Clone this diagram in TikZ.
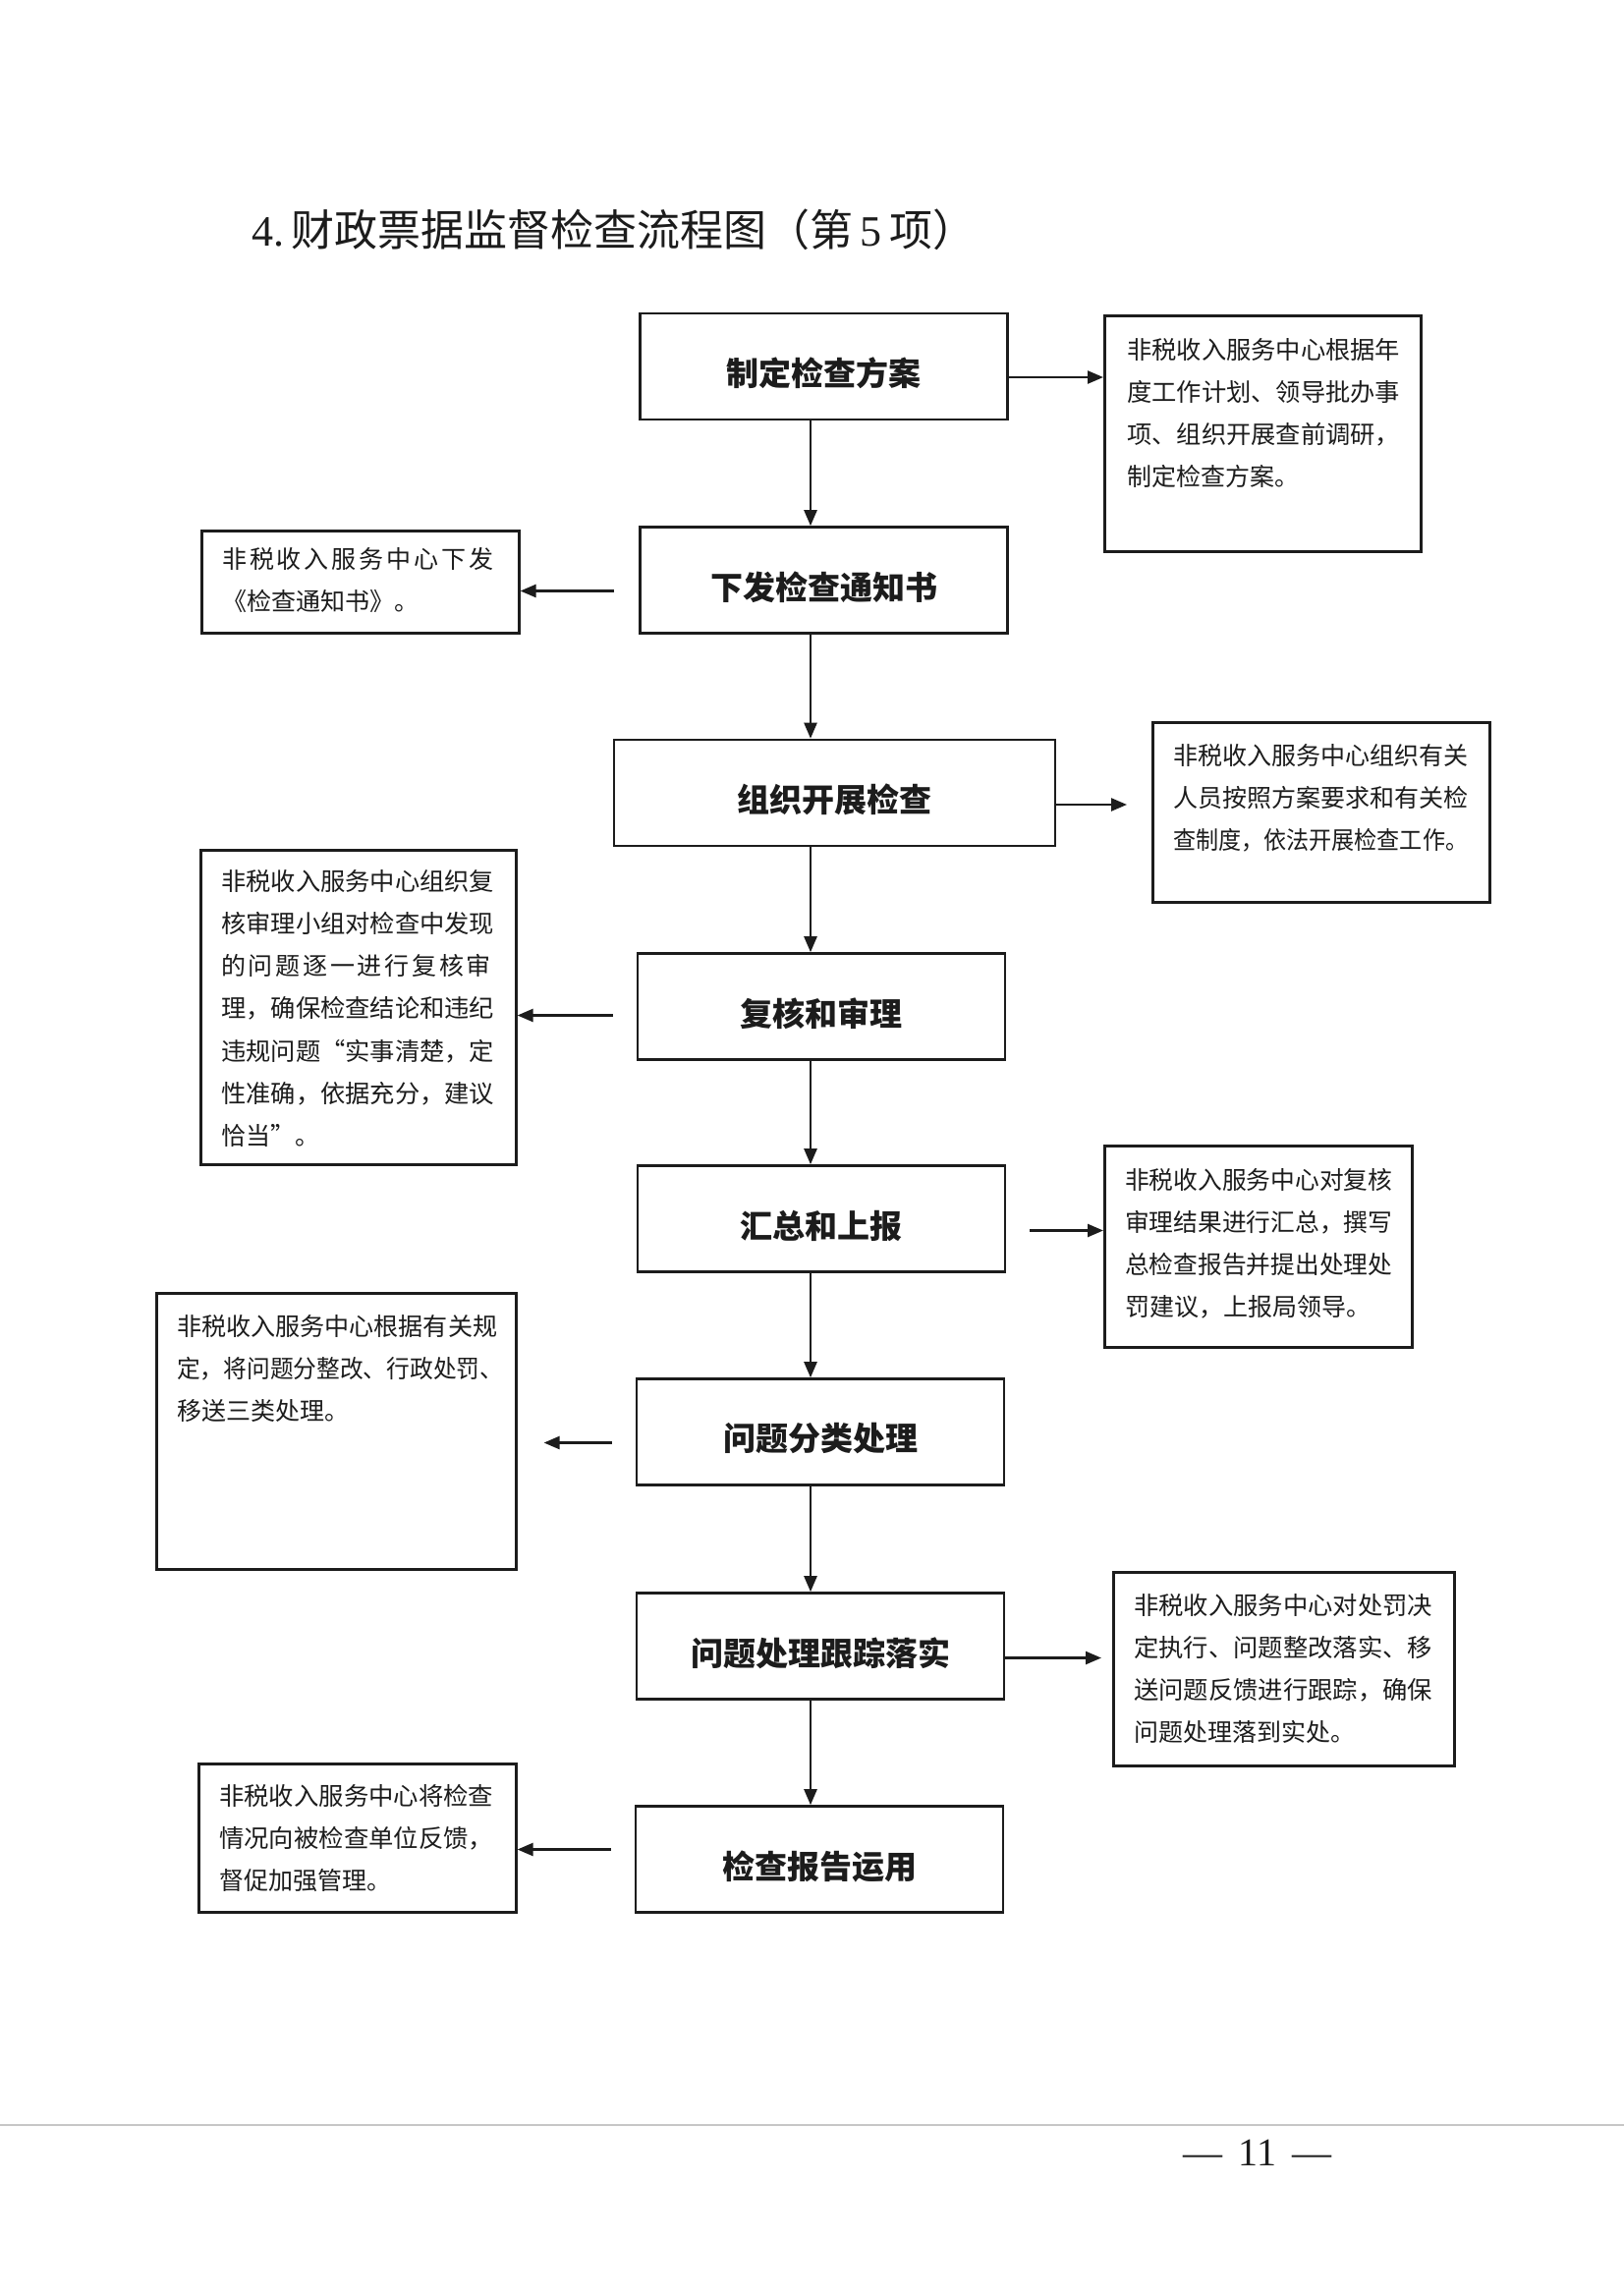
\documentclass[tikz,border=0pt]{standalone}
\usepackage{fontspec}
\usepackage{graphicx}
\setmainfont{Liberation Serif}
\newfontfamily\cjk{Noto Sans CJK SC}
\usetikzlibrary{arrows.meta,calc}
\definecolor{ink}{HTML}{1C1C1C}
\newcommand\fl[2]{\resizebox{#1}{\height}{#2}}
\newcommand\mt[1]{\raisebox{-7pt}[\height][\depth]{#1}}
\tikzset{
  mainbox/.style={draw=ink, line width=2.6pt, minimum width=374pt, minimum height=108pt, inner sep=0pt,
    font=\cjk\bfseries\fontsize{33}{36}\selectfont, text=ink},
  sidebox/.style={draw=ink, line width=2.6pt, inner sep=0pt, anchor=north west},
  sidetext/.style={anchor=north west, inner sep=0pt, align=left,
    font=\cjk\fontsize{25}{43.2}\selectfont, text=ink},
  arr/.style={draw=ink, line width=2.4pt, -{Triangle[length=16pt,width=13pt]}},
}
\begin{document}
\begin{tikzpicture}[x=1pt,y=-1pt]
\useasboundingbox (0,0) rectangle (1653,2336);
\fill[white] (0,0) rectangle (1653,2336);

% title
\node[anchor=west, inner sep=0pt, text=ink] (title) at (256,234)
  {\fontsize{44}{48}\selectfont 4.\,{\cjk 财政票据监督检查流程图（第}\,5\,{\cjk 项）}};

% main boxes
\node[mainbox] (B1) at (838.5,373) {\mt{制定检查方案}};
\node[mainbox] (B2) at (838.5,590.5) {\mt{下发检查通知书}};
\node[mainbox, minimum width=449pt] (B3) at (849.5,807) {\mt{组织开展检查}};
\node[mainbox] (B4) at (836,1024.5) {\mt{复核和审理}};
\node[mainbox] (B5) at (836,1240.5) {\mt{汇总和上报}};
\node[mainbox] (B6) at (835,1457.5) {\mt{问题分类处理}};
\node[mainbox] (B7) at (835,1675.5) {\mt{问题处理跟踪落实}};
\node[mainbox] (B8) at (834,1892.5) {\mt{检查报告运用}};

% side boxes
\node[sidebox, minimum width=322pt, minimum height=240pt] (R1) at (1123,320) {};
\node[sidebox, minimum width=323pt, minimum height=104pt] (L2) at (204,539) {};
\node[sidebox, minimum width=343pt, minimum height=183pt] (R3) at (1172,734) {};
\node[sidebox, minimum width=321pt, minimum height=320pt] (L4) at (203,864) {};
\node[sidebox, minimum width=313pt, minimum height=205pt] (R5) at (1123,1165) {};
\node[sidebox, minimum width=366pt, minimum height=281pt] (L6) at (158,1315) {};
\node[sidebox, minimum width=347pt, minimum height=197pt] (R7) at (1132,1599) {};
\node[sidebox, minimum width=323pt, minimum height=151pt] (L8) at (201,1794) {};

% side texts
\node[sidetext] (R1t) at (1147,344) {\fl{278pt}{非税收入服务中心根据年}\\
  \fl{278pt}{度工作计划、领导批办事}\\
  \fl{278pt}{项、组织开展查前调研，}\\
  制定检查方案。};
\node[sidetext] (L2t) at (226,557) {{\addfontfeatures{LetterSpace=11.5}非税收入服务中心下发}\\
  《检查通知书》。};
\node[sidetext] (R3t) at (1194,757) {\fl{300pt}{非税收入服务中心组织有关}\\
  \fl{300pt}{人员按照方案要求和有关检}\\
  \fl{300pt}{查制度，依法开展检查工作。}};
\node[sidetext] (L4t) at (225,885) {\fl{278pt}{非税收入服务中心组织复}\\
  \fl{278pt}{核审理小组对检查中发现}\\
  {\addfontfeatures{LetterSpace=11}的问题逐一进行复核审}\\
  \fl{278pt}{理，确保检查结论和违纪}\\
  \fl{278pt}{违规问题“实事清楚，定}\\
  \fl{278pt}{性准确，依据充分，建议}\\
  恰当”。};
\node[sidetext] (R5t) at (1145,1189) {\fl{272pt}{非税收入服务中心对复核}\\
  \fl{272pt}{审理结果进行汇总，撰写}\\
  \fl{272pt}{总检查报告并提出处理处}\\
  罚建议，上报局领导。};
\node[sidetext] (L6t) at (180,1338) {\fl{326pt}{非税收入服务中心根据有关规}\\
  \fl{332pt}{定，将问题分整改、行政处罚、}\\
  移送三类处理。};
\node[sidetext] (R7t) at (1154,1622) {\fl{304pt}{非税收入服务中心对处罚决}\\
  \fl{304pt}{定执行、问题整改落实、移}\\
  \fl{304pt}{送问题反馈进行跟踪，确保}\\
  问题处理落到实处。};
\node[sidetext] (L8t) at (223,1816) {\fl{279pt}{非税收入服务中心将检查}\\
  \fl{279pt}{情况向被检查单位反馈，}\\
  督促加强管理。};

% vertical spine arrows
\coordinate (sp) at (825,0);
\draw[arr] (B1.south -| sp) -- (B2.north -| sp);
\draw[arr] (B2.south -| sp) -- (B3.north -| sp);
\draw[arr] (B3.south -| sp) -- (B4.north -| sp);
\draw[arr] (B4.south -| sp) -- (B5.north -| sp);
\draw[arr] (B5.south -| sp) -- (B6.north -| sp);
\draw[arr] (B6.south -| sp) -- (B7.north -| sp);
\draw[arr] (B7.south -| sp) -- (B8.north -| sp);

% side arrows
\draw[arr] ($(B1.east)+(0,11)$) -- ($(R1.west |- B1.east)+(0,11)$);
\draw[arr] ($(B2.west)+(-25,11)$) -- ($(L2.east |- B2.west)+(0,11)$);
\draw[arr] ($(B3.east)+(0,12)$) -- ($(R3.west |- B3.east)+(-25,12)$);
\draw[arr] ($(B4.west)+(-24,9)$) -- ($(L4.east |- B4.west)+(0,9)$);
\draw[arr] ($(B5.east)+(24,12)$) -- ($(R5.west |- B5.east)+(0,12)$);
\draw[arr] ($(B6.west)+(-24,11)$) -- ($(L6.east |- B6.west)+(27,11)$);
\draw[arr] ($(B7.east)+(0,12)$) -- ($(R7.west |- B7.east)+(-11,12)$);
\draw[arr] ($(B8.west)+(-24,-10)$) -- ($(L8.east |- B8.west)+(0,-10)$);

% page footer
\draw[gray!45, line width=1.5pt] (0,2163) -- (1653,2163);
\node[text=ink, inner sep=0pt] (pg) at (1280,2191) {\fontsize{40}{44}\selectfont —\hspace{16pt}11\hspace{16pt}—};
\end{tikzpicture}
\end{document}
